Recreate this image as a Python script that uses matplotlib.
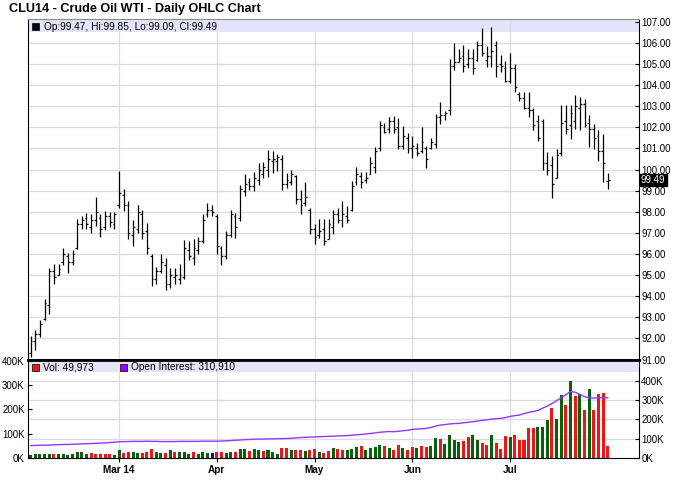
import matplotlib.pyplot as plt
from matplotlib.patches import Rectangle
from matplotlib.ticker import FormatStrFormatter
import numpy as np

plt.rcParams['font.family'] = ['Liberation Sans', 'DejaVu Sans']

# daily OHLC, CLU14 (Feb 3 - Jul 31 2014)
opens = [91.3, 91.9, 92.2, 92.9, 93.6, 95.2, 95.0, 95.6, 95.9, 95.6,
         96.3, 97.4, 97.7, 97.3, 97.6, 97.7, 97.3, 97.8, 97.4, 98.3,
         98.8, 98.3, 96.9, 97.2, 97.9, 97.1, 95.9, 94.8, 95.2, 95.5,
         94.6, 94.9, 94.8, 94.9, 96.2, 95.8, 96.2, 96.6, 97.9, 98.1,
         97.8, 96.3, 95.9, 96.9, 97.8, 97.7, 99.0, 99.4, 99.2, 99.5,
         99.8, 100.0, 100.4, 100.4, 100.5, 99.3, 99.4, 99.7, 98.6, 98.4,
         98.1, 97.2, 96.9, 97.2, 96.7, 97.3, 97.9, 97.6, 97.8, 98.1,
         99.4, 99.7, 99.5, 99.8, 100.1, 101.0, 102.0, 101.9, 102.3, 102.0,
         101.1, 101.5, 101.0, 101.0, 100.9, 101.0, 101.0, 101.2, 102.5, 102.6,
         102.8, 104.9, 105.1, 105.4, 105.0, 105.3, 105.2, 105.9, 105.2, 105.4,
         105.9, 105.0, 104.8, 104.2, 104.8, 103.6, 103.4, 102.9, 102.8, 102.3,
         102.3, 100.3, 100.2, 99.6, 100.8, 102.3, 102.1, 102.3, 102.9, 103.1,
         102.2, 101.9, 101.6, 100.9, 99.47]
highs = [92.1, 92.4, 92.87, 93.86, 95.36, 95.55, 95.55, 96.3, 96.07, 96.2,
         97.65, 97.8, 97.94, 97.9, 98.7, 97.9, 98.05, 98.0, 98.0, 99.93,
         99.06, 98.5, 97.6, 98.3, 98.1, 97.45, 96.0, 95.4, 96.0, 95.8,
         95.36, 95.36, 95.55, 96.66, 96.6, 96.7, 96.8, 97.9, 98.4, 98.3,
         97.9, 96.4, 97.1, 98.1, 97.95, 99.28, 99.8, 99.6, 99.9, 100.3,
         100.37, 100.92, 100.87, 100.72, 100.69, 99.83, 99.98, 99.75, 99.04, 99.43,
         98.2, 97.4, 97.64, 97.68, 97.64, 98.1, 98.18, 98.5, 98.26, 99.47,
         100.14, 99.9, 99.9, 100.6, 101.08, 102.32, 102.2, 102.48, 102.53, 102.42,
         102.06, 101.74, 101.58, 101.27, 102.0, 101.1, 101.5, 102.64, 103.2, 102.77,
         105.25, 106.0, 105.72, 105.9, 105.71, 105.71, 106.11, 106.72, 105.84, 106.75,
         106.11, 105.44, 105.15, 105.52, 104.99, 103.68, 103.65, 103.68, 102.92, 102.57,
         102.4, 100.81, 100.65, 100.97, 103.04, 103.08, 103.04, 103.52, 103.44, 103.36,
         102.6, 102.17, 101.85, 101.69, 99.85]
lows = [91.1, 91.45, 92.08, 92.87, 93.15, 94.57, 95.0, 95.5, 95.08, 95.47,
        96.23, 97.2, 97.2, 97.0, 97.34, 96.8, 97.13, 97.26, 97.2, 98.2,
        98.03, 96.7, 96.4, 97.0, 96.7, 96.0, 94.5, 94.57, 95.1, 94.3,
        94.4, 94.6, 94.57, 94.8, 95.7, 95.5, 96.0, 96.5, 97.76, 97.8,
        96.0, 95.5, 95.76, 96.8, 96.77, 97.56, 98.73, 99.04, 98.97, 99.28,
        99.6, 99.67, 99.83, 99.94, 99.04, 99.12, 99.28, 98.37, 97.9, 98.26,
        96.96, 96.46, 96.77, 96.43, 96.7, 96.96, 97.48, 97.28, 97.48, 98.03,
        99.28, 99.12, 99.36, 99.78, 99.83, 100.87, 101.74, 101.74, 101.74, 100.95,
        100.95, 100.8, 100.56, 100.64, 100.8, 100.08, 100.95, 101.03, 102.14, 102.37,
        102.6, 104.7, 105.08, 104.64, 104.8, 104.51, 105.12, 105.36, 104.88, 104.88,
        104.4, 104.61, 104.16, 104.08, 103.68, 103.24, 102.88, 102.49, 101.85, 101.37,
        99.98, 99.72, 98.65, 99.6, 100.65, 101.69, 101.45, 101.93, 101.85, 102.0,
        101.05, 100.97, 100.41, 99.42, 99.09]
closes = [91.9, 92.2, 92.7, 93.7, 95.2, 94.9, 95.3, 96.0, 95.6, 96.0,
          97.4, 97.6, 97.4, 97.6, 98.0, 97.2, 97.8, 97.5, 97.9, 98.9,
          98.3, 97.0, 97.3, 98.0, 97.0, 96.3, 94.8, 95.2, 95.6, 94.6,
          95.0, 95.0, 95.0, 96.3, 95.9, 96.3, 96.6, 97.6, 98.1, 98.0,
          96.4, 95.9, 96.9, 97.9, 97.3, 99.1, 99.3, 99.2, 99.6, 100.0,
          100.1, 100.5, 100.5, 100.6, 99.3, 99.5, 99.8, 98.6, 98.3, 98.7,
          97.2, 96.8, 97.1, 96.6, 97.4, 97.9, 97.6, 97.9, 97.6, 99.2,
          99.8, 99.4, 99.6, 100.3, 100.9, 102.1, 101.8, 102.3, 101.9, 101.1,
          101.6, 101.0, 101.1, 100.8, 101.3, 100.5, 101.3, 102.5, 102.6, 102.7,
          104.9, 105.1, 105.3, 104.9, 105.3, 104.8, 105.9, 105.5, 105.4, 105.6,
          104.9, 104.9, 104.2, 104.8, 103.9, 103.4, 102.9, 102.8, 102.1, 101.5,
          100.3, 100.0, 99.3, 100.7, 102.2, 101.9, 102.7, 103.0, 103.1, 102.1,
          101.9, 101.5, 100.9, 100.3, 99.49]

# volume (thousands) and its bar colour: g = up, r = down, b = unchanged
volume = [12, 16, 16, 16, 16, 16, 16, 18, 11, 16,
          23, 23, 16, 19, 16, 16, 16, 16, 11, 35,
          19, 25, 25, 19, 19, 23, 39, 25, 19, 19,
          31, 23, 23, 23, 15, 23, 15, 25, 19, 19,
          25, 23, 19, 23, 25, 39, 39, 28, 39, 32,
          28, 35, 23, 15, 43, 41, 35, 32, 32, 28,
          35, 39, 23, 22, 27, 40, 36, 32, 32, 37,
          45, 51, 32, 40, 44, 55, 48, 40, 32, 52,
          40, 34, 44, 41, 48, 45, 51, 81, 79, 59,
          95, 74, 67, 71, 85, 95, 74, 63, 55, 95,
          60, 36, 90, 86, 95, 75, 75, 123, 123, 127,
          127, 156, 206, 162, 258, 218, 316, 255, 265, 199,
          286, 199, 262, 266, 49.973]
vol_dir = list("gggggrggggggg" "rrrrrgg" "rrggrrrggrgrgggrggg" "b"
               "rrggrgg" "rggrgggrrgrrgrrgrrgrr" "gggrggggrgrrgrrgrrgg"
               "rggggrrggrrgrrrgr" "rrrrgggrggrgrgrgrrrr")
# open interest (thousands)
open_int = [64, 65, 66, 66, 67, 68, 69, 70, 70, 71,
            72, 73, 74, 75, 76, 77, 78, 80, 82, 84,
            85, 85, 86, 86, 86, 87, 86, 86, 85, 85,
            85, 85, 86, 86, 86, 86, 86, 87, 87, 87,
            87, 88, 89, 90, 92, 93, 95, 96, 97, 98,
            98, 99, 99, 100, 100, 101, 102, 104, 106, 107,
            108, 109, 110, 111, 112, 113, 114, 115, 116, 118,
            120, 122, 124, 127, 130, 133, 135, 137, 136, 138,
            141, 143, 148, 150, 151, 153, 158, 165, 170, 173,
            176, 178, 179, 182, 185, 188, 191, 195, 197, 201,
            203, 205, 209, 215, 219, 222, 230, 236, 240, 246,
            258, 268, 282, 296, 312, 328, 344, 340, 329, 318,
            311, 310, 311, 312, 310.91]

month_pos = [19, 40, 61, 82, 103]
month_names = ["Mar 14", "Apr", "May", "Jun", "Jul"]

W, H = 680, 497
fig = plt.figure(figsize=(W / 100, H / 100), dpi=100)


def px_rect(x0, y0, x1, y1):
    # pixel box measured from the top-left corner -> figure fraction rect
    return [x0 / W, 1 - y1 / H, (x1 - x0) / W, (y1 - y0) / H]


grid_col = '#dcdcdc'
band_col = '#e4e4fa'
x = np.arange(len(closes))
xlim = (-0.67, 130.6)

# ---- price panel
ax = fig.add_axes(px_rect(27.5, 19, 638.5, 360))
ax.set_xlim(*xlim)
ax.set_ylim(90.98, 107.13)
for p in range(92, 107):
    ax.axhline(p, color=grid_col, lw=0.9, zorder=0)
for m in month_pos:
    ax.axvline(m, color=grid_col, lw=0.9, zorder=0)
ax.add_patch(Rectangle((0, 1 - 12.5 / 341), 1, 12.5 / 341, transform=ax.transAxes,
                       facecolor=band_col, edgecolor='none', zorder=0.5))
ax.axvline(month_pos[-1], ymin=1 - 12.5 / 341, color=grid_col, lw=0.9, zorder=0.6)

ax.vlines(x, lows, highs, color='black', lw=0.9, zorder=2)
ax.hlines(opens, x - 0.4, x, color='black', lw=0.9, zorder=2)
ax.hlines(closes, x, x + 0.4, color='black', lw=0.9, zorder=2)

ax.set_xticks([])
ax.set_yticks(range(91, 108))
ax.yaxis.set_major_formatter(FormatStrFormatter('%.2f'))
ax.yaxis.tick_right()
ax.tick_params(axis='y', direction='in', length=3, width=0.8, pad=2, labelsize=7)
ax.spines['top'].set_color('#8a8a8a')
ax.spines['top'].set_linewidth(0.8)
ax.spines['left'].set_linewidth(0.8)
ax.spines['right'].set_linewidth(0.8)
ax.spines['bottom'].set_linewidth(2)

ax.text(1.004, closes[-1], "%.2f" % closes[-1], transform=ax.get_yaxis_transform(),
        color='white', fontsize=7, va='center', ha='left', zorder=5,
        bbox=dict(boxstyle='square,pad=0.12', fc='black', ec='black'))

fig.text(9 / W, 1 - 9 / H, "CLU14 - Crude Oil WTI - Daily OHLC Chart",
         fontsize=9.1, fontweight='bold', va='center', ha='left')
fig.add_artist(Rectangle((32 / W, 1 - 30 / H), 7 / W, 7 / H, transform=fig.transFigure,
                         facecolor='black', edgecolor='black', lw=0.5))
fig.text(44 / W, 1 - 26.5 / H,
         "Op:%.2f, Hi:%.2f, Lo:%.2f, Cl:%.2f" % (opens[-1], highs[-1], lows[-1], closes[-1]),
         fontsize=7.3, va='center', ha='left')

# ---- volume / open interest panel
axv = fig.add_axes(px_rect(27.5, 360, 638.5, 458))
axv.set_xlim(*xlim)
vol_top = 404
oi_top = 507
axv.set_ylim(0, vol_top * 1000)
for v in [100, 200, 300, 400]:
    axv.axhline(v / oi_top * vol_top * 1000, color=grid_col, lw=0.9, zorder=0)
for m in month_pos:
    axv.axvline(m, color=grid_col, lw=0.9, zorder=0)
axv.add_patch(Rectangle((0, 1 - 12 / 98), 1, 12 / 98, transform=axv.transAxes,
                        facecolor=band_col, edgecolor='none', zorder=0.5))

dir_colors = {'g': '#0b5e0b', 'r': '#e81818', 'b': '#10106e'}
axv.bar(x, np.array(volume) * 1000, width=0.65,
        color=[dir_colors[c] for c in vol_dir], zorder=2)

axv.set_yticks([0, 100000, 200000, 300000, 400000], ["0K", "100K", "200K", "300K", "400K"])
axv.tick_params(axis='y', direction='in', length=3, width=0.8, pad=2, labelsize=7)
axv.set_xticks(month_pos, month_names)
axv.tick_params(axis='x', direction='out', length=3, width=0.8, pad=2, labelsize=7.2)
for lab in axv.get_xticklabels():
    lab.set_fontweight('bold')
axv.spines['top'].set_linewidth(2)
for s in ['left', 'right', 'bottom']:
    axv.spines[s].set_linewidth(0.8)

axo = axv.twinx()
axo.set_xlim(*xlim)
axo.set_ylim(0, oi_top * 1000)
axo.plot(x, np.array(open_int) * 1000, color='#9933ff', lw=1.0, zorder=3)
axo.set_yticks([0, 100000, 200000, 300000, 400000], ["0K", "100K", "200K", "300K", "400K"])
axo.tick_params(axis='y', direction='in', length=3, width=0.8, pad=2, labelsize=7)
for s in axo.spines.values():
    s.set_visible(False)

fig.add_artist(Rectangle((32 / W, 1 - 370.5 / H), 7 / W, 7 / H, transform=fig.transFigure,
                         facecolor='#e81818', edgecolor='black', lw=0.5))
fig.text(43 / W, 1 - 367 / H, "Vol: {:,.0f}".format(volume[-1] * 1000),
         fontsize=7.3, va='center', ha='left')
fig.add_artist(Rectangle((120 / W, 1 - 370.5 / H), 7 / W, 7 / H, transform=fig.transFigure,
                         facecolor='#9900ff', edgecolor='black', lw=0.5))
fig.text(131 / W, 1 - 367 / H, "Open Interest: {:,.0f}".format(open_int[-1] * 1000),
         fontsize=7.3, va='center', ha='left')

fig.savefig('out.png', dpi=100)
